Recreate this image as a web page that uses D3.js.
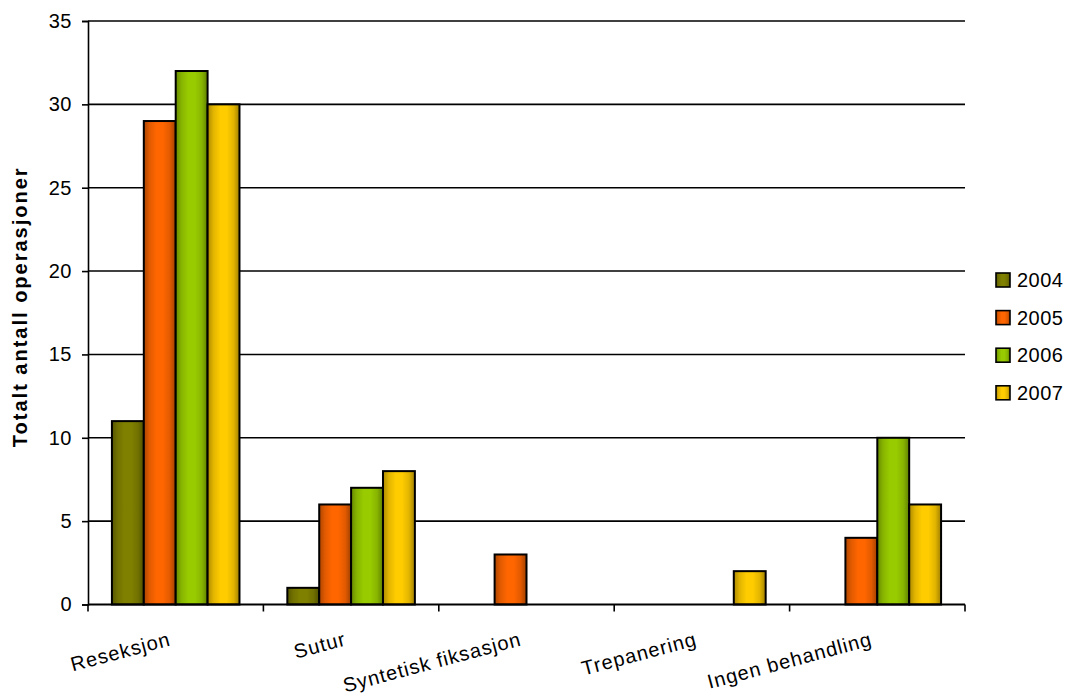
<!DOCTYPE html>
<html><head><meta charset="utf-8">
<script src="https://cdn.jsdelivr.net/npm/d3@7"></script>
<style>
body{margin:0;background:#fff;}
text{font-family:"Liberation Sans",Arial,sans-serif;fill:#000;}
</style></head>
<body><svg id="c" width="1067" height="695"></svg>
<script>
const categories = ["Reseksjon","Sutur","Syntetisk fiksasjon","Trepanering","Ingen behandling"];
const seriesNames = ["2004","2005","2006","2007"];
const values2004 = [11,1,0,0,0];
const values2005 = [29,6,3,0,4];
const values2006 = [32,7,0,0,10];
const values2007 = [30,8,0,2,6];
const yTicks = [0,5,10,15,20,25,30,35];
const yTitle = "Totalt antall operasjoner";
const seriesValues = [values2004,values2005,values2006,values2007];
const colors = ["#808000","#ff6600","#99cc00","#ffcc00"];

(function(){
const FONT = "'Liberation Sans',Arial,sans-serif";
const svg = d3.select("#c");
const pL=88, pR=965, pT=21, pB=604.5;
const x = d3.scaleBand().domain(categories).range([pL,pR]).padding(0);
const bw = x.bandwidth();
const barW = bw/5.5;
const xs = d3.scaleBand().domain(seriesNames).range([barW*0.75, bw-barW*0.75]).padding(0);
const y = d3.scaleLinear().domain([0,35]).range([pB,pT]);

const defs = svg.append("defs");
colors.forEach((c,i)=>{
  const g = defs.append("linearGradient").attr("id","g"+i).attr("x1","0").attr("x2","1").attr("y1","0").attr("y2","0");
  const dark = d3.color(c).darker(1.1);
  const mid = d3.color(c).darker(0.35);
  g.append("stop").attr("offset","0").attr("stop-color",dark);
  g.append("stop").attr("offset","0.18").attr("stop-color",mid);
  g.append("stop").attr("offset","0.4").attr("stop-color",c);
  g.append("stop").attr("offset","0.6").attr("stop-color",c);
  g.append("stop").attr("offset","0.82").attr("stop-color",mid);
  g.append("stop").attr("offset","1").attr("stop-color",d3.color(c).darker(1.3));
});

svg.append("g").selectAll("line").data(yTicks.filter(d=>d>0)).join("line")
  .attr("x1",pL).attr("x2",pR).attr("y1",d=>y(d)).attr("y2",d=>y(d))
  .attr("stroke","#000").attr("stroke-width",1.6);

const groups = svg.append("g").selectAll("g").data(seriesNames).join("g");
groups.each(function(s,si){
  d3.select(this).selectAll("rect").data(categories.map((c,ci)=>({c,v:seriesValues[si][ci]})).filter(d=>d.v>0)).join("rect")
    .attr("x",d=>x(d.c)+xs(s)).attr("width",xs.bandwidth())
    .attr("y",d=>y(d.v)).attr("height",d=>y(0)-y(d.v))
    .attr("fill","url(#g"+si+")").attr("stroke","#000").attr("stroke-width",2);
});

const yAxis = svg.append("g").attr("transform",`translate(${pL},0)`)
  .call(d3.axisLeft(y).tickValues(yTicks).tickSize(6).tickPadding(10));
yAxis.select(".domain").attr("stroke","#000").attr("stroke-width",1.6);
yAxis.selectAll(".tick line").attr("stroke","#000").attr("stroke-width",1.6);
yAxis.selectAll(".tick text").attr("font-size","20px").attr("font-family",FONT).attr("fill","#000").attr("letter-spacing","0.5px");

const bounds = categories.map(c=>x(c)).concat([pR]);
svg.append("line").attr("x1",pL).attr("x2",pR).attr("y1",pB).attr("y2",pB).attr("stroke","#000").attr("stroke-width",2);
svg.append("g").selectAll("line").data(bounds).join("line")
  .attr("x1",d=>d).attr("x2",d=>d).attr("y1",pB).attr("y2",pB+7).attr("stroke","#000").attr("stroke-width",1.6);

svg.append("g").selectAll("text").data(categories).join("text")
  .attr("transform",d=>`translate(${x(d)+bw/2-4},645) rotate(-15)`)
  .attr("text-anchor","end").attr("font-size","20px").attr("letter-spacing","1px")
  .text(d=>d);

svg.append("text").attr("transform",`translate(27,${(pT+pB)/2-6}) rotate(-90)`)
  .attr("text-anchor","middle").attr("font-size","20px").attr("font-weight","bold").attr("letter-spacing","2px")
  .text(yTitle);

const lg = svg.append("g").selectAll("g").data(seriesNames).join("g")
  .attr("transform",(d,i)=>`translate(996,${273+i*37.6})`);
lg.append("rect").attr("width",14).attr("height",14).attr("fill",(d,i)=>`url(#g${i})`).attr("stroke","#000").attr("stroke-width",1.6);
lg.append("text").attr("x",21).attr("y",14).attr("font-size","20px").attr("letter-spacing","0.5px").text(d=>d);
})();
</script></body></html>
